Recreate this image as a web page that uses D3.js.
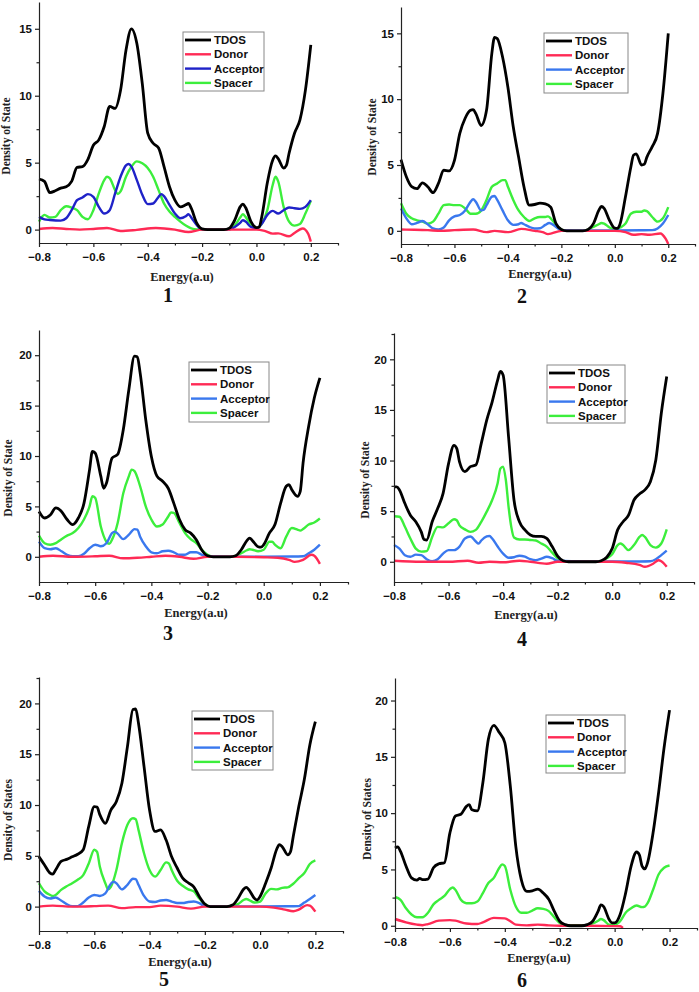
<!DOCTYPE html>
<html>
<head>
<meta charset="utf-8">
<script src="https://cdn.jsdelivr.net/npm/d3@7"></script>
<style>
  body { margin: 0; background: #fff; }
  svg { display: block; }
</style>
</head>
<body>
<svg id="chart" width="699" height="992"></svg>
<script>
// series names used in every legend
const seriesNames = ["TDOS", "Donor", "Acceptor", "Spacer"];
const panelLabels = ["1", "2", "3", "4", "5", "6"];
const yTitles = ["Density of State", "Density of State", "Density of State",
                 "Density of State", "Density of States", "Density of States"];
const xTicks = [-0.8, -0.6, -0.4, -0.2, 0.0, 0.2];

// ---- panel 1 ----
const tdos1 = [[-0.80,3.78],[-0.78,3.6],[-0.76,2.76],[-0.74,2.9],[-0.72,3.1],[-0.70,3.2],[-0.68,3.6],[-0.66,4.65],[-0.64,4.7],[-0.62,5.25],[-0.60,6.3],[-0.58,6.7],[-0.56,7.7],[-0.54,9.2],[-0.52,9.05],[-0.50,10.4],[-0.48,13.4],[-0.46,15.0],[-0.44,13.9],[-0.42,10.9],[-0.40,7.2],[-0.38,6.45],[-0.36,6.1],[-0.34,4.7],[-0.32,3.2],[-0.30,2.2],[-0.28,1.7],[-0.26,1.85],[-0.25,1.95],[-0.24,1.6],[-0.22,0.5],[-0.20,0.05],[-0.18,0],[-0.12,0],[-0.10,0.1],[-0.08,0.7],[-0.06,1.7],[-0.05,1.9],[-0.04,1.65],[-0.02,0.6],[0.00,0.15],[0.01,0.2],[0.02,1.0],[0.04,3.5],[0.06,5.2],[0.07,5.5],[0.08,5.3],[0.10,4.6],[0.11,4.8],[0.12,5.7],[0.14,7.2],[0.16,8.2],[0.18,10.4],[0.20,13.8]];
const donor1 = [[-0.80,0.05],[-0.75,0.12],[-0.70,0.05],[-0.65,0.0],[-0.60,0.05],[-0.55,0.12],[-0.50,-0.1],[-0.44,-0.02],[-0.37,0.12],[-0.30,0.0],[-0.25,-0.18],[-0.20,0.0],[-0.10,0.0],[0.00,0.0],[0.03,-0.1],[0.06,-0.3],[0.08,-0.28],[0.12,-0.5],[0.14,-0.25],[0.17,0.08],[0.19,-0.3],[0.20,-0.9]];
const acceptor1 = [[-0.80,0.95],[-0.78,0.77],[-0.76,0.72],[-0.72,0.67],[-0.70,0.85],[-0.68,1.45],[-0.66,2.2],[-0.64,2.4],[-0.62,2.65],[-0.60,2.45],[-0.58,1.7],[-0.56,1.2],[-0.54,1.45],[-0.52,2.7],[-0.50,3.95],[-0.48,4.8],[-0.47,4.9],[-0.46,4.7],[-0.44,3.7],[-0.42,2.6],[-0.40,1.9],[-0.38,1.95],[-0.36,2.45],[-0.35,2.65],[-0.34,2.5],[-0.32,1.85],[-0.30,1.2],[-0.28,0.85],[-0.26,1.0],[-0.25,1.15],[-0.24,0.9],[-0.22,0.35],[-0.20,0.02],[-0.12,0.0],[-0.10,0.02],[-0.08,0.2],[-0.06,0.5],[-0.05,0.7],[-0.04,0.6],[-0.02,0.2],[0.00,0.1],[0.02,0.45],[0.04,1.1],[0.06,1.4],[0.08,1.2],[0.10,1.45],[0.12,1.65],[0.14,1.6],[0.16,1.55],[0.18,1.7],[0.20,2.2]];
const spacer1 = [[-0.80,0.6],[-0.78,1.1],[-0.76,0.9],[-0.74,0.95],[-0.72,1.45],[-0.70,1.75],[-0.68,1.65],[-0.66,1.45],[-0.64,0.95],[-0.62,0.77],[-0.60,1.45],[-0.58,2.7],[-0.56,3.7],[-0.55,3.95],[-0.54,3.85],[-0.52,2.95],[-0.51,2.65],[-0.50,2.85],[-0.48,3.95],[-0.46,4.7],[-0.44,5.1],[-0.42,4.95],[-0.40,4.6],[-0.38,3.95],[-0.36,2.95],[-0.34,1.95],[-0.32,1.35],[-0.30,0.95],[-0.28,0.6],[-0.26,0.3],[-0.24,0.1],[-0.22,0.02],[-0.12,0.0],[-0.10,0.02],[-0.08,0.3],[-0.06,0.9],[-0.05,1.15],[-0.04,0.95],[-0.02,0.35],[0.00,0.12],[0.02,0.45],[0.04,1.45],[0.06,3.35],[0.07,3.95],[0.08,3.6],[0.10,1.7],[0.12,0.6],[0.14,0.3],[0.16,0.42],[0.18,1.2],[0.20,2.15]];

// ---- panel 2 ----
const tdos2 = [[-0.80,5.4],[-0.78,4.1],[-0.76,3.35],[-0.74,3.2],[-0.72,3.65],[-0.70,3.35],[-0.68,2.9],[-0.66,3.6],[-0.64,4.6],[-0.62,4.55],[-0.60,5.35],[-0.58,7.4],[-0.56,8.55],[-0.54,9.15],[-0.53,9.2],[-0.52,8.9],[-0.50,8.0],[-0.48,9.15],[-0.46,13.5],[-0.45,14.7],[-0.44,14.6],[-0.42,13.2],[-0.40,10.9],[-0.38,7.9],[-0.36,5.6],[-0.34,3.35],[-0.32,1.95],[-0.30,2.0],[-0.28,2.1],[-0.26,2.05],[-0.24,1.8],[-0.22,0.55],[-0.20,0.1],[-0.18,0.0],[-0.12,0.0],[-0.10,0.1],[-0.08,0.55],[-0.06,1.55],[-0.05,1.85],[-0.04,1.7],[-0.02,0.8],[0.00,0.2],[0.01,0.18],[0.02,0.55],[0.04,2.6],[0.06,4.85],[0.07,5.75],[0.08,5.85],[0.10,5.0],[0.11,5.05],[0.12,5.6],[0.14,6.4],[0.16,7.4],[0.18,10.45],[0.20,15.0]];
const donor2 = [[-0.80,0.1],[-0.75,0.08],[-0.70,0.05],[-0.65,0.0],[-0.60,0.05],[-0.53,0.1],[-0.48,-0.1],[-0.45,0.0],[-0.40,-0.1],[-0.35,0.15],[-0.30,0.0],[-0.27,-0.1],[-0.25,-0.25],[-0.20,0.0],[-0.10,0.0],[0.00,0.0],[0.04,-0.1],[0.07,-0.3],[0.10,-0.25],[0.13,-0.3],[0.17,-0.2],[0.19,-0.6],[0.20,-1.0]];
const acceptor2 = [[-0.80,1.7],[-0.78,0.95],[-0.76,0.5],[-0.74,0.6],[-0.72,0.75],[-0.70,0.5],[-0.68,0.18],[-0.66,0.1],[-0.64,0.25],[-0.62,0.8],[-0.60,1.1],[-0.58,1.2],[-0.56,1.55],[-0.54,2.2],[-0.53,2.4],[-0.52,2.2],[-0.50,1.55],[-0.49,1.6],[-0.48,1.95],[-0.46,2.6],[-0.45,2.65],[-0.44,2.35],[-0.42,1.55],[-0.40,0.8],[-0.38,0.45],[-0.36,0.5],[-0.35,0.6],[-0.34,0.5],[-0.32,0.3],[-0.30,0.18],[-0.28,0.2],[-0.26,0.45],[-0.245,0.6],[-0.22,0.3],[-0.20,0.05],[-0.10,0.03],[0.00,0.03],[0.10,0.04],[0.14,0.05],[0.16,0.18],[0.18,0.55],[0.20,1.2]];
const spacer2 = [[-0.80,2.1],[-0.78,1.3],[-0.76,0.95],[-0.74,0.8],[-0.72,0.7],[-0.70,0.55],[-0.68,0.7],[-0.66,1.3],[-0.64,1.95],[-0.62,2.0],[-0.60,1.95],[-0.58,1.95],[-0.56,1.7],[-0.54,1.3],[-0.52,1.3],[-0.50,1.55],[-0.48,2.35],[-0.46,3.35],[-0.44,3.6],[-0.42,3.85],[-0.41,3.85],[-0.40,3.35],[-0.38,2.35],[-0.36,1.55],[-0.34,1.05],[-0.32,0.75],[-0.30,0.95],[-0.28,1.05],[-0.26,1.05],[-0.25,1.1],[-0.24,0.95],[-0.22,0.45],[-0.20,0.1],[-0.18,0.0],[-0.12,0.0],[-0.10,0.1],[-0.08,0.3],[-0.06,0.5],[-0.05,0.6],[-0.04,0.55],[-0.02,0.25],[0.00,0.1],[0.02,0.25],[0.04,0.55],[0.06,1.3],[0.08,1.45],[0.10,1.45],[0.11,1.55],[0.12,1.5],[0.14,1.05],[0.16,0.7],[0.18,0.95],[0.20,1.8]];

// ---- panel 3 ----
const tdos3 = [[-0.80,4.5],[-0.78,3.85],[-0.76,4.15],[-0.74,4.85],[-0.72,4.5],[-0.70,3.7],[-0.68,3.2],[-0.66,3.85],[-0.64,5.3],[-0.62,8.65],[-0.61,10.45],[-0.60,10.3],[-0.58,8.0],[-0.57,6.8],[-0.56,7.3],[-0.54,9.8],[-0.52,10.15],[-0.50,12.6],[-0.48,16.6],[-0.46,19.9],[-0.45,19.85],[-0.44,18.25],[-0.42,13.6],[-0.40,9.95],[-0.38,8.0],[-0.36,7.5],[-0.34,6.8],[-0.32,5.3],[-0.30,3.7],[-0.28,2.7],[-0.26,2.35],[-0.24,1.7],[-0.22,0.65],[-0.20,0.1],[-0.18,0.0],[-0.12,0.0],[-0.10,0.1],[-0.08,0.7],[-0.06,1.6],[-0.05,1.85],[-0.04,1.6],[-0.02,1.0],[-0.01,0.95],[0.00,1.2],[0.02,2.35],[0.04,3.2],[0.06,5.3],[0.08,7.0],[0.09,7.15],[0.10,6.65],[0.12,6.0],[0.13,6.5],[0.14,9.3],[0.16,12.95],[0.18,15.75],[0.20,17.75]];
const donor3 = [[-0.80,0.0],[-0.75,0.1],[-0.68,0.0],[-0.60,0.05],[-0.55,0.1],[-0.50,-0.15],[-0.45,-0.1],[-0.40,0.0],[-0.35,0.1],[-0.30,0.0],[-0.25,-0.2],[-0.20,0.0],[-0.10,0.0],[0.00,-0.05],[0.05,-0.1],[0.09,-0.3],[0.11,-0.5],[0.14,-0.3],[0.17,0.2],[0.18,0.1],[0.20,-0.7]];
const acceptor3 = [[-0.80,1.5],[-0.78,0.85],[-0.76,0.75],[-0.74,0.85],[-0.72,0.55],[-0.70,0.2],[-0.68,0.05],[-0.66,0.05],[-0.64,0.3],[-0.62,0.85],[-0.60,1.2],[-0.58,1.05],[-0.56,1.35],[-0.54,2.35],[-0.53,2.5],[-0.52,2.3],[-0.50,1.75],[-0.48,2.2],[-0.46,2.75],[-0.45,2.7],[-0.44,2.0],[-0.42,1.05],[-0.40,0.45],[-0.38,0.35],[-0.36,0.55],[-0.34,0.6],[-0.32,0.45],[-0.30,0.2],[-0.28,0.2],[-0.26,0.45],[-0.24,0.45],[-0.22,0.2],[-0.20,0.05],[-0.10,0.02],[0.00,0.02],[0.10,0.03],[0.14,0.05],[0.16,0.35],[0.18,0.7],[0.20,1.2]];
const spacer3 = [[-0.80,2.1],[-0.78,1.35],[-0.76,1.2],[-0.74,1.35],[-0.72,1.75],[-0.70,2.1],[-0.68,2.35],[-0.66,2.85],[-0.64,3.7],[-0.62,5.0],[-0.61,6.0],[-0.60,5.85],[-0.58,3.0],[-0.56,1.5],[-0.55,1.3],[-0.54,1.7],[-0.52,3.35],[-0.50,6.3],[-0.48,8.0],[-0.47,8.65],[-0.46,8.5],[-0.44,7.0],[-0.42,5.0],[-0.40,3.7],[-0.38,3.0],[-0.36,3.2],[-0.34,4.0],[-0.33,4.4],[-0.32,4.35],[-0.30,3.35],[-0.28,2.35],[-0.26,1.75],[-0.24,1.35],[-0.22,0.7],[-0.20,0.2],[-0.18,0.0],[-0.12,0.0],[-0.10,0.1],[-0.08,0.35],[-0.06,0.65],[-0.05,0.75],[-0.04,0.7],[-0.02,0.55],[0.00,0.7],[0.02,1.5],[0.03,1.5],[0.04,1.2],[0.06,0.85],[0.08,2.0],[0.10,2.85],[0.12,2.7],[0.13,2.6],[0.14,2.75],[0.16,3.2],[0.18,3.4],[0.20,3.8]];

// ---- panel 4 ----
const tdos4 = [[-0.80,7.4],[-0.79,7.4],[-0.78,7.1],[-0.76,5.75],[-0.74,4.6],[-0.72,3.95],[-0.70,2.95],[-0.69,2.2],[-0.68,2.15],[-0.66,3.95],[-0.64,5.25],[-0.62,6.75],[-0.60,9.7],[-0.58,11.5],[-0.57,11.2],[-0.56,9.9],[-0.54,8.9],[-0.52,9.4],[-0.50,9.55],[-0.48,11.7],[-0.46,14.0],[-0.44,15.8],[-0.42,17.95],[-0.41,18.8],[-0.40,18.45],[-0.38,12.35],[-0.36,6.1],[-0.34,3.95],[-0.32,3.15],[-0.30,2.65],[-0.28,2.5],[-0.26,2.5],[-0.24,2.3],[-0.22,1.5],[-0.20,0.55],[-0.18,0.1],[-0.16,0.0],[-0.06,0.0],[-0.04,0.1],[-0.02,0.45],[0.00,1.3],[0.02,3.15],[0.04,3.95],[0.06,4.6],[0.08,6.1],[0.10,6.7],[0.12,7.1],[0.14,7.9],[0.16,10.05],[0.18,14.65],[0.20,18.3]];
const donor4 = [[-0.80,0.1],[-0.70,0.0],[-0.60,0.0],[-0.53,0.1],[-0.49,-0.1],[-0.45,0.0],[-0.40,-0.05],[-0.34,0.1],[-0.30,0.0],[-0.24,-0.2],[-0.20,0.0],[-0.10,0.0],[0.00,0.0],[0.05,-0.1],[0.10,-0.3],[0.12,-0.5],[0.15,-0.2],[0.17,0.15],[0.18,0.05],[0.20,-0.5]];
const acceptor4 = [[-0.80,1.65],[-0.78,1.3],[-0.76,0.65],[-0.74,0.5],[-0.72,0.7],[-0.70,0.65],[-0.68,0.25],[-0.66,0.05],[-0.64,0.25],[-0.62,0.8],[-0.60,1.15],[-0.58,1.15],[-0.56,1.5],[-0.54,2.3],[-0.52,2.5],[-0.50,2.0],[-0.49,1.8],[-0.48,2.1],[-0.46,2.5],[-0.45,2.55],[-0.44,2.3],[-0.42,1.5],[-0.40,0.8],[-0.38,0.4],[-0.36,0.45],[-0.34,0.6],[-0.32,0.5],[-0.30,0.25],[-0.28,0.15],[-0.26,0.3],[-0.24,0.5],[-0.22,0.35],[-0.20,0.1],[-0.10,0.02],[0.00,0.02],[0.10,0.03],[0.14,0.05],[0.16,0.25],[0.18,0.65],[0.20,1.1]];
const spacer4 = [[-0.80,4.5],[-0.78,4.45],[-0.76,3.45],[-0.74,2.3],[-0.72,1.3],[-0.70,1.0],[-0.68,1.05],[-0.66,2.45],[-0.64,3.45],[-0.62,3.4],[-0.60,3.8],[-0.58,4.2],[-0.57,4.1],[-0.56,3.6],[-0.54,3.2],[-0.52,2.95],[-0.50,3.15],[-0.48,3.95],[-0.46,4.95],[-0.44,6.1],[-0.42,7.75],[-0.41,9.2],[-0.40,9.4],[-0.39,8.1],[-0.38,5.45],[-0.37,3.45],[-0.36,2.4],[-0.34,2.2],[-0.32,2.2],[-0.30,2.15],[-0.28,2.1],[-0.26,1.8],[-0.24,1.5],[-0.22,0.9],[-0.20,0.35],[-0.18,0.05],[-0.16,0.0],[-0.06,0.0],[-0.04,0.05],[-0.02,0.35],[0.00,0.75],[0.02,1.65],[0.03,1.8],[0.04,1.65],[0.06,1.15],[0.08,1.65],[0.10,2.45],[0.11,2.65],[0.12,2.45],[0.14,1.65],[0.16,1.4],[0.18,1.8],[0.20,3.2]];

// ---- panel 5 ----
const tdos5 = [[-0.80,4.9],[-0.78,4.1],[-0.76,3.3],[-0.75,3.2],[-0.74,3.6],[-0.72,4.45],[-0.70,4.65],[-0.68,4.9],[-0.66,5.15],[-0.64,5.6],[-0.62,7.9],[-0.60,9.85],[-0.59,9.8],[-0.58,9.05],[-0.56,8.2],[-0.54,9.5],[-0.52,10.35],[-0.50,12.15],[-0.48,15.75],[-0.46,19.4],[-0.45,19.45],[-0.44,18.05],[-0.42,13.8],[-0.40,9.5],[-0.38,7.4],[-0.36,7.55],[-0.34,6.55],[-0.32,4.9],[-0.30,3.8],[-0.28,2.8],[-0.26,2.35],[-0.24,1.95],[-0.22,1.0],[-0.20,0.25],[-0.18,0.0],[-0.12,0.0],[-0.10,0.15],[-0.08,0.8],[-0.06,1.7],[-0.05,1.9],[-0.04,1.65],[-0.02,0.8],[-0.01,0.65],[0.00,1.0],[0.02,2.3],[0.04,3.8],[0.06,5.65],[0.07,6.1],[0.08,5.9],[0.10,5.1],[0.11,5.4],[0.12,6.9],[0.14,9.85],[0.16,12.5],[0.18,15.9],[0.20,18.2]];
const donor5 = [[-0.80,0.0],[-0.75,0.1],[-0.68,0.0],[-0.60,0.05],[-0.55,0.1],[-0.50,-0.15],[-0.45,-0.05],[-0.40,-0.05],[-0.36,0.1],[-0.30,0.0],[-0.25,-0.2],[-0.20,0.0],[-0.10,0.0],[0.00,0.0],[0.05,-0.1],[0.09,-0.3],[0.12,-0.45],[0.14,-0.3],[0.17,0.15],[0.18,0.1],[0.20,-0.5]];
const acceptor5 = [[-0.80,1.55],[-0.78,1.0],[-0.76,0.8],[-0.74,0.9],[-0.72,0.6],[-0.70,0.25],[-0.68,0.05],[-0.66,0.05],[-0.64,0.4],[-0.62,0.9],[-0.60,1.15],[-0.58,1.05],[-0.56,1.3],[-0.54,2.25],[-0.53,2.45],[-0.52,2.3],[-0.50,1.7],[-0.48,2.15],[-0.46,2.75],[-0.45,2.7],[-0.44,2.15],[-0.42,1.05],[-0.40,0.5],[-0.38,0.45],[-0.36,0.6],[-0.34,0.65],[-0.32,0.5],[-0.30,0.35],[-0.28,0.35],[-0.26,0.45],[-0.24,0.5],[-0.22,0.35],[-0.20,0.05],[-0.10,0.02],[0.00,0.02],[0.10,0.03],[0.14,0.05],[0.16,0.4],[0.18,0.75],[0.20,1.15]];
const spacer5 = [[-0.80,2.3],[-0.78,1.5],[-0.76,1.15],[-0.75,1.05],[-0.74,1.15],[-0.72,1.65],[-0.70,2.0],[-0.68,2.3],[-0.66,2.65],[-0.64,3.1],[-0.62,4.25],[-0.60,5.6],[-0.59,5.4],[-0.58,3.95],[-0.56,2.3],[-0.55,1.7],[-0.54,1.95],[-0.52,3.6],[-0.50,6.25],[-0.48,8.05],[-0.46,8.7],[-0.45,8.6],[-0.44,7.55],[-0.42,5.25],[-0.40,3.6],[-0.38,2.95],[-0.36,3.6],[-0.34,4.35],[-0.33,4.25],[-0.32,3.6],[-0.30,2.55],[-0.28,2.05],[-0.26,1.7],[-0.24,1.5],[-0.22,0.8],[-0.20,0.25],[-0.18,0.0],[-0.12,0.0],[-0.10,0.1],[-0.08,0.25],[-0.06,0.65],[-0.05,0.75],[-0.04,0.65],[-0.02,0.4],[0.00,0.5],[0.02,1.3],[0.04,1.75],[0.06,1.7],[0.08,1.85],[0.10,1.9],[0.12,2.25],[0.14,2.8],[0.16,3.3],[0.18,4.2],[0.20,4.55]];

// ---- panel 6 ----
const tdos6 = [[-0.80,6.9],[-0.79,7.0],[-0.78,6.6],[-0.76,5.3],[-0.74,4.25],[-0.72,4.05],[-0.71,4.2],[-0.70,4.1],[-0.68,4.15],[-0.66,5.15],[-0.64,5.5],[-0.62,5.6],[-0.60,8.25],[-0.58,9.75],[-0.56,9.9],[-0.54,10.6],[-0.53,10.75],[-0.52,10.3],[-0.50,10.2],[-0.48,12.7],[-0.46,16.55],[-0.44,17.8],[-0.42,17.15],[-0.40,16.25],[-0.38,12.4],[-0.36,7.05],[-0.34,4.1],[-0.32,3.05],[-0.30,3.1],[-0.28,3.25],[-0.26,2.9],[-0.24,2.35],[-0.22,1.3],[-0.20,0.4],[-0.18,0.1],[-0.16,0.0],[-0.12,0.0],[-0.10,0.1],[-0.08,0.4],[-0.06,1.3],[-0.05,1.85],[-0.04,1.7],[-0.02,0.55],[-0.01,0.25],[0.00,0.25],[0.02,1.0],[0.04,2.9],[0.06,5.3],[0.08,6.55],[0.09,6.3],[0.10,5.3],[0.11,5.05],[0.12,5.6],[0.14,8.25],[0.16,11.8],[0.18,15.8],[0.20,19.15]];
const donor6 = [[-0.80,0.6],[-0.76,0.3],[-0.72,0.1],[-0.70,0.05],[-0.68,0.15],[-0.64,0.45],[-0.60,0.5],[-0.58,0.45],[-0.54,0.2],[-0.50,0.15],[-0.48,0.3],[-0.44,0.7],[-0.40,0.65],[-0.38,0.4],[-0.36,0.1],[-0.32,0.03],[-0.28,0.1],[-0.24,0.03],[-0.20,0.0],[-0.10,0.0],[0.00,-0.03],[0.02,-0.05],[0.03,-0.2]];
const acceptor6 = [];
const spacer6 = [[-0.80,2.55],[-0.78,2.3],[-0.76,1.55],[-0.74,1.0],[-0.72,0.75],[-0.70,0.75],[-0.68,1.15],[-0.66,1.9],[-0.64,2.3],[-0.62,2.65],[-0.60,3.25],[-0.59,3.4],[-0.58,3.2],[-0.56,2.3],[-0.54,2.0],[-0.52,2.0],[-0.50,2.15],[-0.48,2.9],[-0.46,3.8],[-0.44,4.25],[-0.42,5.15],[-0.41,5.45],[-0.40,5.3],[-0.38,3.2],[-0.36,1.7],[-0.34,1.15],[-0.32,1.15],[-0.30,1.35],[-0.28,1.55],[-0.26,1.5],[-0.24,1.3],[-0.22,0.75],[-0.20,0.25],[-0.18,0.05],[-0.12,0.05],[-0.10,0.05],[-0.08,0.2],[-0.06,0.45],[-0.05,0.6],[-0.04,0.5],[-0.02,0.1],[0.00,0.1],[0.02,0.4],[0.04,1.15],[0.06,1.55],[0.08,1.8],[0.10,1.65],[0.11,1.7],[0.12,2.0],[0.14,3.2],[0.16,4.55],[0.18,5.15],[0.20,5.35]];

const seriesData = [
  [tdos1, donor1, acceptor1, spacer1],
  [tdos2, donor2, acceptor2, spacer2],
  [tdos3, donor3, acceptor3, spacer3],
  [tdos4, donor4, acceptor4, spacer4],
  [tdos5, donor5, acceptor5, spacer5],
  [tdos6, donor6, acceptor6, spacer6]
];

// y ranges of each panel (Origin autoscale)
const yDomains = [[-1, 17], [-1, 17], [-2.5, 22.5], [-2, 22.6], [-2.4, 22.6], [-0.2, 22]];
const yTickLists = [[0, 5, 10, 15], [0, 5, 10, 15], [0, 5, 10, 15, 20], [0, 5, 10, 15, 20], [0, 5, 10, 15, 20], [0, 5, 10, 15, 20]];

// page layout of each panel
const layout = [
  { l: 39,  r: 338, t: 2,   b: 243, leg: [183, 32, 81, 59],  yl: [6, 136],   xl: [182, 277], num: [168, 295] },
  { l: 401, r: 695, t: 7,   b: 244, leg: [544, 33, 84, 60],  yl: [372, 137], xl: [540, 274], num: [522, 296] },
  { l: 39,  r: 348, t: 330, b: 582, leg: [189, 362, 80, 60], yl: [8, 478],   xl: [196, 613], num: [168, 633] },
  { l: 394, r: 694, t: 333, b: 582, leg: [547, 365, 78, 58], yl: [365, 480], xl: [526, 615], num: [522, 639] },
  { l: 39,  r: 343, t: 677, b: 931, leg: [192, 711, 81, 59], yl: [8, 820],   xl: [180, 962], num: [164, 979] },
  { l: 395, r: 697, t: 678, b: 928, leg: [546, 715, 79, 58], yl: [367, 819], xl: [539, 958], num: [522, 980] }
];

const colorsStd = ["#000000", "#ff2a55", "#3a78ee", "#3cee3c"];
const colorsP1  = ["#000000", "#ff2a55", "#1f22c8", "#3cee3c"];
const widths = [2.8, 2.4, 2.4, 2.4];

const svg = d3.select("#chart");

layout.forEach((p, i) => {
  const colors = i === 0 ? colorsP1 : colorsStd;
  const x = d3.scaleLinear().domain([-0.8, 0.3]).range([p.l, p.r]);
  const y = d3.scaleLinear().domain(yDomains[i]).range([p.b, p.t]);
  const g = svg.append("g");

  // curves, TDOS on top
  const line = d3.line().x(d => x(d[0])).y(d => y(d[1])).curve(d3.curveMonotoneX);
  [3, 2, 1, 0].forEach(k => {
    const data = seriesData[i][k];
    if (!data.length) return;
    g.append("path")
      .datum(data)
      .attr("fill", "none")
      .attr("stroke", colors[k])
      .attr("stroke-width", widths[k])
      .attr("stroke-linejoin", "round")
      .attr("d", line);
  });

  // x axis
  const xAxis = g.append("g").attr("transform", `translate(0,${p.b})`)
    .call(d3.axisBottom(x).tickValues(xTicks).tickSize(4).tickSizeOuter(0)
      .tickFormat(d3.format(".1f")));
  const xMinor = g.append("g").attr("transform", `translate(0,${p.b})`)
    .call(d3.axisBottom(x).tickValues([-0.7, -0.5, -0.3, -0.1, 0.1, 0.3]).tickSize(2.5).tickFormat(""));
  xMinor.select(".domain").remove();

  // y axis
  const yAxis = g.append("g").attr("transform", `translate(${p.l},0)`)
    .call(d3.axisLeft(y).tickValues(yTickLists[i]).tickSize(4).tickSizeOuter(0).tickPadding(3));
  const minors = d3.range(-2.5, yDomains[i][1], 5).filter(v => v > yDomains[i][0]);
  const yMinor = g.append("g").attr("transform", `translate(${p.l},0)`)
    .call(d3.axisLeft(y).tickValues(minors).tickSize(2.5).tickFormat(""));
  yMinor.select(".domain").remove();

  [xAxis, yAxis, xMinor, yMinor].forEach(a => {
    a.selectAll("path, line").attr("stroke", "#222").attr("stroke-width", 1.2);
  });
  [xAxis, yAxis].forEach(a => {
    a.selectAll("text")
      .attr("font-family", "Liberation Sans, Arial, sans-serif")
      .attr("font-weight", "bold")
      .attr("font-size", 11.5)
      .attr("fill", "#111");
  });
  xAxis.selectAll("text").attr("dy", "0.95em");

  // axis titles
  g.append("text")
    .attr("transform", `translate(${p.yl[0]},${p.yl[1]}) rotate(-90)`)
    .attr("text-anchor", "middle")
    .attr("dy", "0.35em")
    .attr("font-family", "Liberation Serif, Times New Roman, serif")
    .attr("font-weight", "bold")
    .attr("font-size", 11.5)
    .attr("fill", "#222")
    .text(yTitles[i]);

  g.append("text")
    .attr("x", p.xl[0]).attr("y", p.xl[1])
    .attr("text-anchor", "middle")
    .attr("dy", "0.35em")
    .attr("font-family", "Liberation Serif, Times New Roman, serif")
    .attr("font-weight", "bold")
    .attr("font-size", 12.5)
    .attr("fill", "#222")
    .text("Energy(a.u)");

  g.append("text")
    .attr("x", p.num[0]).attr("y", p.num[1])
    .attr("text-anchor", "middle")
    .attr("dy", "0.35em")
    .attr("font-family", "Liberation Serif, Times New Roman, serif")
    .attr("font-weight", "bold")
    .attr("font-size", 20)
    .attr("fill", "#111")
    .text(panelLabels[i]);

  // legend
  const [lx, ly, lw, lh] = p.leg;
  const leg = g.append("g");
  leg.append("rect")
    .attr("x", lx).attr("y", ly).attr("width", lw).attr("height", lh)
    .attr("fill", "#fff").attr("stroke", "#888").attr("stroke-width", 1);
  seriesNames.forEach((name, k) => {
    const cy = ly + 8 + k * 14.3;
    leg.append("line")
      .attr("x1", lx + 2).attr("x2", lx + 28)
      .attr("y1", cy).attr("y2", cy)
      .attr("stroke", colors[k]).attr("stroke-width", widths[k]);
    leg.append("text")
      .attr("x", lx + 31).attr("y", cy)
      .attr("dy", "0.36em")
      .attr("font-family", "Liberation Sans, Arial, sans-serif")
      .attr("font-weight", "bold")
      .attr("font-size", 11.5)
      .attr("fill", "#111")
      .text(name);
  });
});
</script>
</body>
</html>
